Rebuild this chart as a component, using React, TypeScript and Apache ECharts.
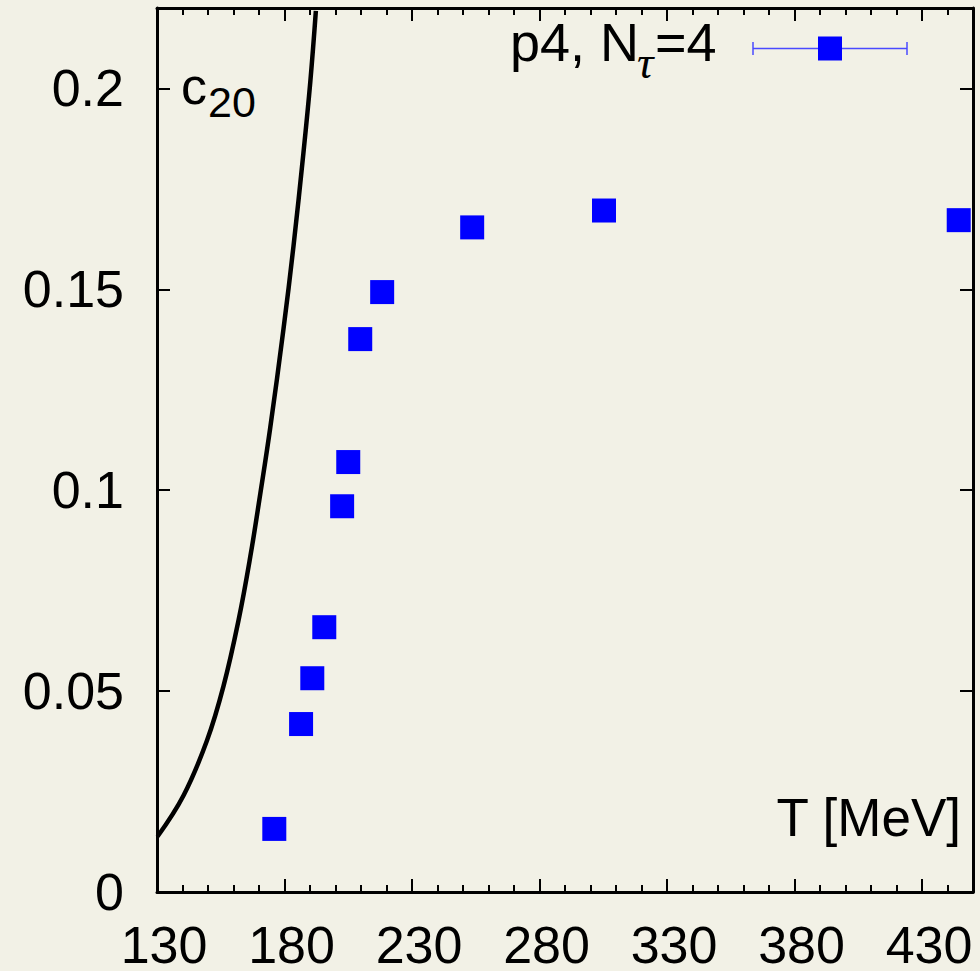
import React, { useEffect, useRef } from "react";
import * as echarts from "echarts";

// p4 lattice data, N_tau = 4
const tP4 = [176.0, 186.5, 190.9, 195.6, 202.6, 205.0, 209.7, 218.3, 253.6, 305.3, 444.4];
const c20P4 = [0.0157, 0.0418, 0.0532, 0.0659, 0.096, 0.107, 0.1376, 0.1493, 0.1654, 0.1696, 0.1672];

// solid reference curve
const tCurve = [130.2, 140.4, 149.6, 156.1, 162.0, 166.6, 170.5, 174.4, 179.6, 183.5, 187.4, 190.1, 192.3];
const c20Curve = [0.0138, 0.024, 0.0377, 0.0513, 0.0677, 0.0835, 0.0991, 0.1155, 0.1401, 0.1606, 0.1838, 0.2015, 0.2193];

const xMajor = [130, 180, 230, 280, 330, 380, 430];
const xMinor = [140, 150, 160, 170, 190, 200, 210, 220, 240, 250, 260, 270, 290, 300, 310, 320, 340, 350, 360, 370, 390, 400, 410, 420, 440, 450];
const yMajor = [0, 0.05, 0.1, 0.15, 0.2];

const FONT = "Liberation Sans";
const BG = "#f2f1e6";

export default function App() {
  const ref = useRef<HTMLDivElement>(null);
  useEffect(() => {
    document.body.style.margin = "0";
    document.body.style.background = BG;
    const chart = echarts.init(ref.current!, null, { renderer: "svg" });
    const axisLine = { show: true, lineStyle: { color: "#000", width: 3 } };
    const xBase = { type: "value", min: 130, max: 450, splitLine: { show: false } };
    const yBase = { type: "value", min: 0, max: 0.22, splitLine: { show: false } };
    chart.setOption({
      animation: false,
      backgroundColor: BG,
      grid: { left: 157, right: 7, top: 8, bottom: 79, containLabel: false },
      xAxis: [
        {
          ...xBase,
          position: "bottom",
          axisLine,
          axisTick: { show: true, inside: true, length: 13, customValues: xMajor, lineStyle: { color: "#000", width: 2 } },
          axisLabel: {
            show: true,
            customValues: xMajor,
            color: "#000",
            fontSize: 52,
            lineHeight: 44,
            fontFamily: FONT,
            margin: 31,
            padding: [0, 0, 0, 14],
          },
        },
        {
          ...xBase,
          position: "bottom",
          axisLine: { show: false },
          axisTick: { show: true, inside: true, length: 7, customValues: xMinor, lineStyle: { color: "#000", width: 2 } },
          axisLabel: { show: false },
        },
        {
          ...xBase,
          position: "top",
          axisLine,
          axisTick: { show: true, inside: true, length: 13, customValues: xMajor, lineStyle: { color: "#000", width: 2 } },
          axisLabel: { show: false },
        },
        {
          ...xBase,
          position: "top",
          axisLine: { show: false },
          axisTick: { show: true, inside: true, length: 7, customValues: xMinor, lineStyle: { color: "#000", width: 2 } },
          axisLabel: { show: false },
        },
      ],
      yAxis: [
        {
          ...yBase,
          position: "left",
          axisLine,
          axisTick: { show: true, inside: true, length: 13, customValues: yMajor, lineStyle: { color: "#000", width: 2 } },
          axisLabel: {
            show: true,
            customValues: yMajor,
            color: "#000",
            fontSize: 52,
            fontFamily: FONT,
            margin: 33,
          },
        },
        {
          ...yBase,
          position: "right",
          axisLine,
          axisTick: { show: true, inside: true, length: 13, customValues: yMajor, lineStyle: { color: "#000", width: 2 } },
          axisLabel: { show: false },
        },
      ],
      series: [
        {
          type: "line",
          name: "curve",
          xAxisIndex: 0,
          yAxisIndex: 0,
          data: tCurve.map((t, i) => [t, c20Curve[i]]),
          smooth: 0.4,
          showSymbol: false,
          symbol: "none",
          lineStyle: { color: "#000", width: 4.5 },
          z: 2,
        },
        {
          type: "scatter",
          name: "p4, Nτ=4",
          xAxisIndex: 0,
          yAxisIndex: 0,
          data: tP4.map((t, i) => [t, c20P4[i]]),
          symbol: "rect",
          symbolSize: 24,
          itemStyle: { color: "#0000ff", opacity: 1 },
          clip: false,
          z: 3,
        },
      ],
      graphic: [
        // c20 label
        { type: "text", left: 181, top: 60, style: { text: "c", fontSize: 52, fontFamily: FONT, fill: "#000" } },
        { type: "text", left: 208, top: 80, style: { text: "20", fontSize: 43, fontFamily: FONT, fill: "#000" } },
        // T [MeV] label
        {
          type: "text",
          x: 961,
          y: 817,
          style: { text: "T [MeV]", fontSize: 53, fontFamily: FONT, fill: "#000", align: "right", verticalAlign: "middle" },
        },
        // legend
        {
          type: "text",
          x: 639,
          y: 42,
          style: { text: "p4, N", fontSize: 54, fontFamily: FONT, fill: "#000", align: "right", verticalAlign: "middle" },
        },
        {
          type: "text",
          x: 637,
          y: 62,
          style: { text: "τ", fontSize: 46, fontFamily: "Liberation Serif", fontStyle: "italic", fill: "#000", align: "left", verticalAlign: "middle" },
        },
        {
          type: "text",
          x: 655,
          y: 42,
          style: { text: "=4", fontSize: 54, fontFamily: FONT, fill: "#000", align: "left", verticalAlign: "middle" },
        },
        { type: "line", shape: { x1: 753, y1: 48.5, x2: 907, y2: 48.5 }, style: { stroke: "#4a4aff", lineWidth: 1.5 } },
        { type: "line", shape: { x1: 753, y1: 42, x2: 753, y2: 55 }, style: { stroke: "#4a4aff", lineWidth: 1.5 } },
        { type: "line", shape: { x1: 907, y1: 42, x2: 907, y2: 55 }, style: { stroke: "#4a4aff", lineWidth: 1.5 } },
        { type: "rect", shape: { x: 818, y: 36.5, width: 24, height: 24 }, style: { fill: "#0000ff" } },
      ],
    });
    return () => chart.dispose();
  }, []);
  return <div ref={ref} style={{ position: "absolute", left: 0, top: 0, width: 980, height: 971 }} />;
}
